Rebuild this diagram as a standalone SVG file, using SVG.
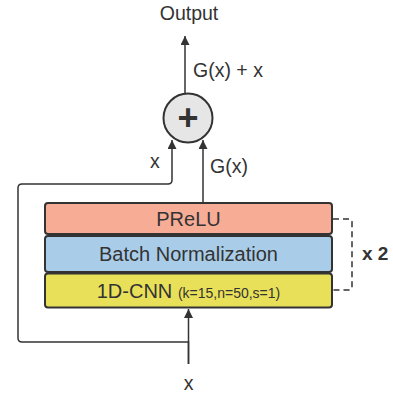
<svg xmlns="http://www.w3.org/2000/svg" width="393" height="394" viewBox="0 0 393 394">
<style>
text{font-family:"Liberation Sans",Arial,sans-serif;fill:#333}
.lbl{font-size:19.5px}
.box{stroke:#333;stroke-width:2}
.ln{fill:none;stroke:#333;stroke-width:1.5}
</style>
<defs>
<marker id="ah2" viewBox="0 0 10 10" refX="10" refY="5" markerWidth="11" markerHeight="9" markerUnits="userSpaceOnUse" orient="auto">
<path d="M0,0 L10,5 L0,10 z" fill="#333"/>
</marker>
</defs>
<rect width="393" height="394" fill="#fff"/>
<g id="connectors">
<path class="ln" d="M185,95 V36" marker-end="url(#ah2)"/>
<path class="ln" d="M188.5,364 V342 H22 Q18,342 18,338 V188 Q18,184 22,184 H168 Q172,184 172,180 V140" marker-end="url(#ah2)"/>
<path class="ln" d="M188.5,364 V309" marker-end="url(#ah2)"/>
<path class="ln" d="M203,203 V140" marker-end="url(#ah2)"/>
<path d="M333,219 H349 Q352,219 352,222 V287 Q352,290 349,290 H333" fill="none" stroke="#333" stroke-width="1.5" stroke-dasharray="6,4"/>
</g>
<g id="add">
<circle cx="188" cy="118" r="24.5" fill="#e6e6e6" stroke="#333" stroke-width="2"/>
<text x="188" y="130" text-anchor="middle" font-size="36" font-weight="bold">+</text>
</g>
<g id="prelu">
<rect class="box" x="45" y="203" width="287" height="31" rx="3" fill="#f7ac96"/>
<text x="188.5" y="225.5" text-anchor="middle" font-size="20">PReLU</text>
</g>
<g id="batchnorm">
<rect class="box" x="45" y="236" width="287" height="36" rx="3" fill="#a9cde9"/>
<text x="188.5" y="261" text-anchor="middle" font-size="20">Batch Normalization</text>
</g>
<g id="cnn">
<rect class="box" x="45" y="273.5" width="287" height="34" rx="3" fill="#e9e05a"/>
<text x="188.5" y="298" text-anchor="middle" font-size="20">1D-CNN <tspan font-size="14">(k=15,n=50,s=1)</tspan></text>
</g>
<g id="labels">
<text class="lbl" x="189" y="20" text-anchor="middle">Output</text>
<text class="lbl" x="193" y="77">G(x) + x</text>
<text class="lbl" x="150" y="168">x</text>
<text class="lbl" x="210" y="173">G(x)</text>
<text class="lbl" x="188.5" y="390" text-anchor="middle">x</text>
<text x="362" y="260" font-size="19" font-weight="bold">x 2</text>
</g>
</svg>
